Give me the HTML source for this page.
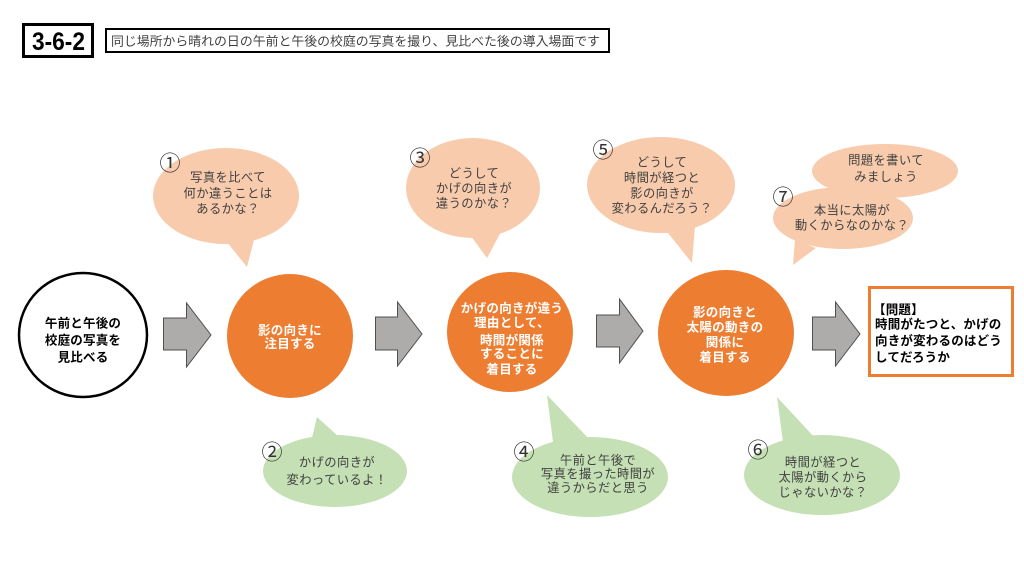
<!DOCTYPE html>
<html><head><meta charset="utf-8"><style>
html,body{margin:0;padding:0;background:#fff;}
svg{display:block;}
.b{font-family:"Liberation Sans","Noto Sans CJK JP",sans-serif;font-size:12.3px;fill:#404040;letter-spacing:0.4px;text-anchor:middle;}
.w{font-family:"Liberation Sans","Noto Sans CJK JP",sans-serif;font-size:12.5px;font-weight:bold;fill:#fff;letter-spacing:0.3px;text-anchor:middle;}
.k{font-family:"Liberation Sans","Noto Sans CJK JP",sans-serif;font-size:12.5px;font-weight:bold;fill:#000;letter-spacing:0.2px;}
.n{font-family:"Noto Sans CJK JP",sans-serif;font-size:21px;fill:#333;text-anchor:middle;}
</style></head><body>
<svg width="1024" height="576" viewBox="0 0 1024 576" xmlns="http://www.w3.org/2000/svg">
<rect width="1024" height="576" fill="#fff"/>
<!-- header -->
<rect x="23.5" y="24.5" width="69" height="32" fill="#fff" stroke="#000" stroke-width="3"/>
<text x="32" y="50" font-family="Liberation Sans, sans-serif" font-weight="bold" font-size="25" textLength="53" lengthAdjust="spacingAndGlyphs">3-6-2</text>
<rect x="106" y="29" width="503" height="23" fill="#fff" stroke="#000" stroke-width="2"/>
<text x="111" y="45.5" font-family="Liberation Sans, Noto Sans CJK JP, sans-serif" font-size="12.5" fill="#404040" textLength="489" lengthAdjust="spacingAndGlyphs">同じ場所から晴れの日の午前と午後の校庭の写真を撮り、見比べた後の導入場面です</text>

<!-- peach bubbles -->
<g fill="#F8CBAD">
<ellipse cx="226" cy="196" rx="73" ry="48"/>
<polygon points="222,236 256,232 247,267"/>
<ellipse cx="473" cy="188" rx="67" ry="50"/>
<polygon points="468,232 502,230 487,258"/>
<ellipse cx="661" cy="185" rx="74" ry="48"/>
<polygon points="664,228 695,226 692,263"/>
<ellipse cx="885" cy="171" rx="73" ry="27"/>
<ellipse cx="843" cy="218" rx="70" ry="31"/>
<polygon points="795,240 816,248 793,265"/>
</g>
<!-- green bubbles -->
<g fill="#C5E0B4">
<ellipse cx="335" cy="471" rx="72" ry="36"/>
<polygon points="311,442 340,438 317,417"/>
<ellipse cx="590" cy="477" rx="78" ry="40"/>
<polygon points="553,442 590,440 547,395"/>
<ellipse cx="822" cy="475" rx="78" ry="40"/>
<polygon points="783,442 815,438 777,397"/>
</g>

<!-- numbers -->
<text class="n" x="170" y="170.5">①</text>
<text class="n" x="420" y="165.5">③</text>
<text class="n" x="603" y="157.5">⑤</text>
<text class="n" x="783" y="204.5">⑦</text>
<text class="n" x="272" y="459.5">②</text>
<text class="n" x="524" y="459.5">④</text>
<text class="n" x="758" y="457.5">⑥</text>

<!-- bubble texts -->
<text class="b" x="228" y="181.5">写真を比べて</text>
<text class="b" x="228" y="197.5">何か違うことは</text>
<text class="b" x="228" y="213">あるかな？</text>

<text class="b" x="474" y="177.5">どうして</text>
<text class="b" x="474" y="192.5">かげの向きが</text>
<text class="b" x="474" y="207.5">違うのかな？</text>

<text class="b" x="662" y="166.5">どうして</text>
<text class="b" x="662" y="182">時間が経つと</text>
<text class="b" x="662" y="197.5">影の向きが</text>
<text class="b" x="662" y="212.5">変わるんだろう？</text>

<text class="b" x="886" y="164.5">問題を書いて</text>
<text class="b" x="886" y="181">みましょう</text>

<text class="b" x="852" y="214.5">本当に太陽が</text>
<text class="b" x="852" y="229.5">動くからなのかな？</text>

<text class="b" x="337" y="466.5">かげの向きが</text>
<text class="b" x="337" y="484">変わっているよ！</text>

<text class="b" x="598" y="464.5">午前と午後で</text>
<text class="b" x="598" y="478">写真を撮った時間が</text>
<text class="b" x="598" y="492">違うからだと思う</text>

<text class="b" x="823" y="466.5">時間が経つと</text>
<text class="b" x="823" y="481.5">太陽が動くから</text>
<text class="b" x="823" y="496.5">じゃないかな？</text>

<!-- main flow -->
<ellipse cx="83" cy="335" rx="64" ry="62" fill="#fff" stroke="#000" stroke-width="2.5"/>
<text class="k" x="83" y="327.5" text-anchor="middle">午前と午後の</text>
<text class="k" x="83" y="344.5" text-anchor="middle">校庭の写真を</text>
<text class="k" x="83" y="361.5" text-anchor="middle">見比べる</text>

<g fill="#AEABAB" stroke="#505050" stroke-width="1">
<polygon points="163.5,318 186.5,318 186.5,303 211,335 186.5,367 186.5,350 163.5,350"/>
<polygon points="375.5,317 397.5,317 397.5,302 422,334 397.5,366 397.5,350 375.5,350"/>
<polygon points="596.5,315 619.5,315 619.5,299 643,331 619.5,363 619.5,347 596.5,347"/>
<polygon points="812.5,317 835.5,317 835.5,302 860,334 835.5,366 835.5,350 812.5,350"/>
</g>

<g fill="#ED7D31">
<ellipse cx="290" cy="336" rx="63" ry="62"/>
<ellipse cx="510" cy="332" rx="63" ry="60"/>
<ellipse cx="726" cy="333" rx="68" ry="63"/>
</g>

<text class="w" x="290" y="334.5">影の向きに</text>
<text class="w" x="290" y="348">注目する</text>

<text class="w" x="512" y="312.5">かげの向きが違う</text>
<text class="w" x="512" y="327">理由として、</text>
<text class="w" x="512" y="344.5">時間が関係</text>
<text class="w" x="512" y="358">することに</text>
<text class="w" x="512" y="373.5">着目する</text>

<text class="w" x="725" y="316.5">影の向きと</text>
<text class="w" x="725" y="331.5">太陽の動きの</text>
<text class="w" x="725" y="346.5">関係に</text>
<text class="w" x="725" y="361.5">着目する</text>

<rect x="869.5" y="287.5" width="143" height="88" fill="#fff" stroke="#ED7D31" stroke-width="3"/>
<text class="k" x="873" y="314" font-size="13">【問題】</text>
<text class="k" x="875" y="328.5" font-size="13">時間がたつと、かげの</text>
<text class="k" x="875" y="345" font-size="13">向きが変わるのはどう</text>
<text class="k" x="875" y="361.5" font-size="13">してだろうか</text>
</svg>
</body></html>
